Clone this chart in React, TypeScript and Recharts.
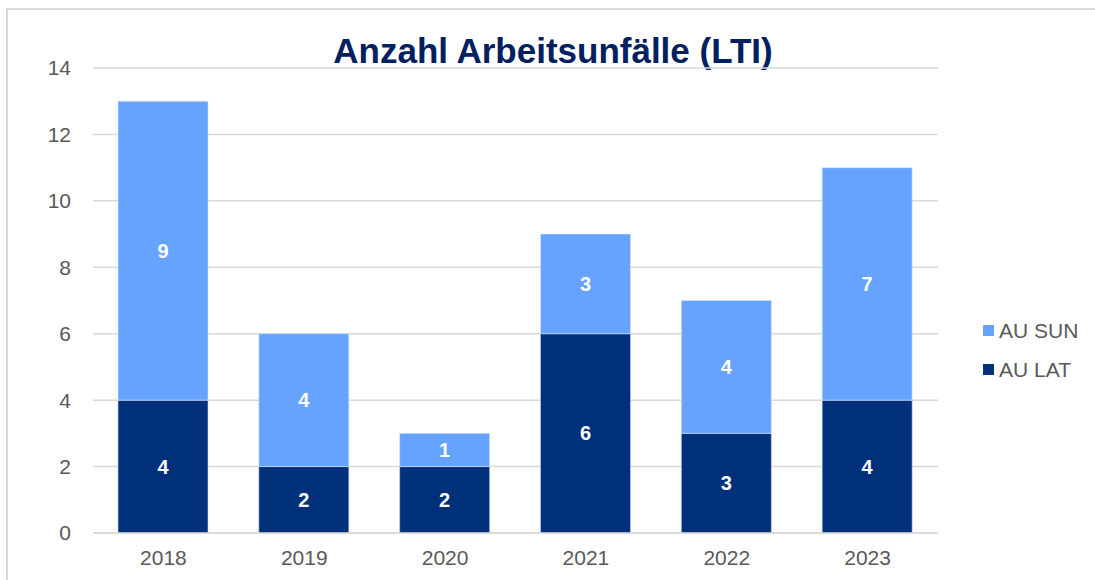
import { BarChart, Bar, XAxis, YAxis, CartesianGrid, LabelList } from 'recharts';

const years = ['2018', '2019', '2020', '2021', '2022', '2023'];
const auLat = [4, 2, 2, 6, 3, 4];
const auSun = [9, 4, 1, 3, 4, 7];
const yTicks = [0, 2, 4, 6, 8, 10, 12, 14];

const data = years.map((year, i) => ({ year, lat: auLat[i], sun: auSun[i] }));

const FONT = '"Liberation Sans", Arial, sans-serif';
const DARK = '#00307A';
const LIGHT = '#65A3FF';

const legendItems = [
  { name: 'AU SUN', color: LIGHT },
  { name: 'AU LAT', color: DARK },
];

export default function App() {
  return (
    <div style={{ position: 'absolute', left: 0, top: 0, width: 1095, height: 580, background: '#fff', overflow: 'hidden' }}>
      <div style={{ position: 'absolute', left: 6, top: 8, width: 1200, height: 700, border: '2px solid #d9d9d9' }} />
      <div
        style={{
          position: 'absolute', left: 0, width: 1106, top: 31, textAlign: 'center',
          fontFamily: FONT, fontWeight: 'bold', fontSize: 35, color: '#002060',
        }}
      >
        Anzahl Arbeitsunfälle (LTI)
      </div>
      <div style={{ position: 'absolute', left: 983, top: 311 }}>
        {legendItems.map((it) => (
          <div key={it.name} style={{ display: 'flex', alignItems: 'center', height: 39 }}>
            <span style={{ width: 11, height: 11, background: it.color, marginRight: 5 }} />
            <span style={{ fontSize: 21, color: '#595959', fontFamily: FONT }}>{it.name}</span>
          </div>
        ))}
      </div>
      <BarChart
        width={1095}
        height={580}
        data={data}
        margin={{ top: 68, right: 157, left: 13, bottom: 17 }}
        barSize={90}
        style={{ position: 'absolute', left: 0, top: 0 }}
      >
        <CartesianGrid vertical={false} stroke="#d9d9d9" strokeWidth={1.5} />
        <XAxis
          dataKey="year"
          height={30}
          axisLine={{ stroke: '#d9d9d9', strokeWidth: 1.5 }}
          tickLine={false}
          tickMargin={11}
          tick={{ fill: '#595959', fontSize: 21, fontFamily: FONT }}
        />
        <YAxis
          width={80}
          domain={[0, 14]}
          ticks={yTicks}
          axisLine={false}
          tickLine={false}
          tickSize={0}
          tickMargin={22}
          interval={0}
          tick={{ fill: '#595959', fontSize: 21, fontFamily: FONT }}
        />
        <Bar dataKey="lat" name="AU LAT" stackId="a" fill={DARK} stroke="#c9d3e6" strokeWidth={0.6} isAnimationActive={false}>
          <LabelList dataKey="lat" position="center" fill="#fff" fontSize={20} fontWeight="bold" fontFamily={FONT} />
        </Bar>
        <Bar dataKey="sun" name="AU SUN" stackId="a" fill={LIGHT} stroke="#d6e6ff" strokeWidth={0.6} isAnimationActive={false}>
          <LabelList dataKey="sun" position="center" fill="#fff" fontSize={20} fontWeight="bold" fontFamily={FONT} />
        </Bar>
      </BarChart>
    </div>
  );
}
